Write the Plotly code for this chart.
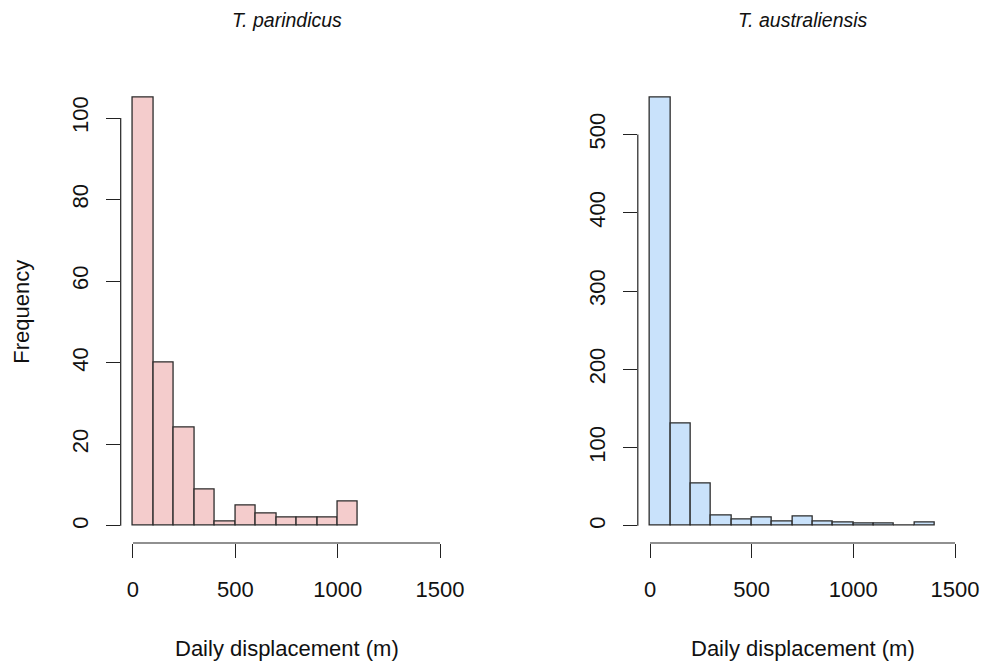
import numpy as np
import plotly.graph_objects as go

# ---- data ----
bin_edges_par = [0, 100, 200, 300, 400, 500, 600, 700, 800, 900, 1000, 1100]
counts_par = [105, 40, 24, 9, 1, 5, 3, 2, 2, 2, 6]

bin_edges_aus = [0, 100, 200, 300, 400, 500, 600, 700, 800, 900, 1000, 1100, 1200, 1300, 1400]
counts_aus = [547, 131, 54, 13, 8, 11, 6, 12, 5, 4, 3, 3, 1, 4]

x_ticks = [0, 500, 1000, 1500]
y_ticks_par = [0, 20, 40, 60, 80, 100]
y_ticks_aus = [0, 100, 200, 300, 400, 500]

titles = ["T. parindicus", "T. australiensis"]
x_title = "Daily displacement (m)"
y_title = "Frequency"

pink = "#F4CCCC"
blue = "#C9E2FB"
edge = "#2b2b2b"
FONT = "Liberation Sans, Arial, sans-serif"

W, H = 986, 664

def centers(edges):
    e = np.asarray(edges, dtype=float)
    return (e[:-1] + e[1:]) / 2, np.diff(e)

fig = go.Figure()

panels = [
    (bin_edges_par, counts_par, pink, y_ticks_par, "x", "y", "xaxis", "yaxis", [120.7, 452.3]),
    (bin_edges_aus, counts_aus, blue, y_ticks_aus, "x2", "y2", "xaxis2", "yaxis2", [637.8, 967.2]),
]

ytop_px, ybot_px = 80.5, 543.0
ydom = [1 - ybot_px / H, 1 - ytop_px / H]

for i, (edges, counts, col, yt, xr, yr, xa, ya, xpx) in enumerate(panels):
    c, w = centers(edges)
    fig.add_trace(go.Bar(x=c, y=counts, width=w, marker=dict(color=col, line=dict(color=edge, width=1.3)),
                         xaxis=xr, yaxis=yr, showlegend=False, hoverinfo="x+y"))
    # R-style 4% range extension
    xmin, xmax = 0, 1500
    dx = 0.04 * (xmax - xmin)
    ymax = max(counts)
    dy = 0.04 * ymax
    fig.update_layout(**{
        xa: dict(domain=[xpx[0] / W, xpx[1] / W], range=[xmin - dx, xmax + dx], tickvals=x_ticks,
                 ticks="outside", ticklen=14, tickwidth=1.2, tickcolor="#222", showline=False,
                 showgrid=False, zeroline=False, anchor=yr, ticklabelstandoff=13, automargin=False,
                 tickfont=dict(size=22, color="#111", family=FONT)),
        ya: dict(domain=ydom, range=[-dy, ymax + dy], tickvals=yt, ticks="outside", ticklen=14,
                 tickwidth=1.2, tickcolor="#222", showline=False, showgrid=False, zeroline=False,
                 anchor=xr, tickangle=-90, ticklabelstandoff=9, automargin=False,
                 tickfont=dict(size=22, color="#111", family=FONT)),
    })
    # axis lines spanning first to last tick (R style)
    fig.add_shape(type="line", xref=xr, yref=f"{yr} domain", x0=x_ticks[0], x1=x_ticks[-1], y0=0, y1=0,
                  line=dict(color="#222", width=1.2))
    fig.add_shape(type="line", xref=f"{xr} domain", yref=yr, x0=0, x1=0, y0=yt[0], y1=yt[-1],
                  line=dict(color="#222", width=1.2))
    # panel title
    fig.add_annotation(text=f"<i>{titles[i]}</i>", xref=f"{xr} domain", x=0.5, yref="paper", y=1 - 20 / H,
                       showarrow=False, yanchor="middle", font=dict(size=19.5, color="#111", family=FONT))
    fig.add_annotation(text=x_title, xref=f"{xr} domain", x=0.5, yref="paper", y=1 - 648 / H,
                       showarrow=False, yanchor="middle", font=dict(size=22, color="#111", family=FONT))

fig.add_annotation(text=y_title, xref="paper", x=22 / W, yref="paper", y=(ydom[0] + ydom[1]) / 2,
                   textangle=-90, showarrow=False, xanchor="center", yanchor="middle",
                   font=dict(size=22, color="#111", family=FONT))

fig.update_layout(width=W, height=H, margin=dict(l=0, r=0, t=0, b=0, autoexpand=False), bargap=0,
                  plot_bgcolor="white", paper_bgcolor="white")

fig.write_html("out.html")
